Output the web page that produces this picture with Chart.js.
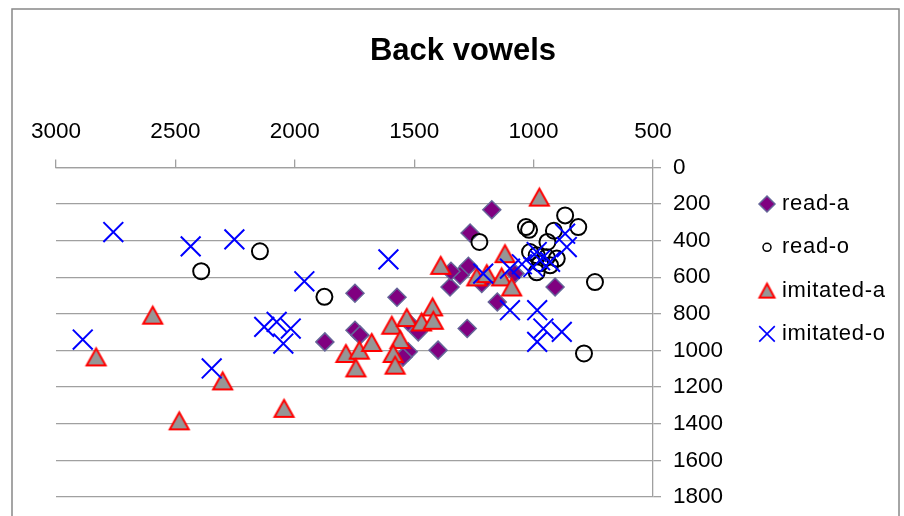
<!DOCTYPE html>
<html>
<head>
<meta charset="utf-8">
<script src="https://cdn.jsdelivr.net/npm/chart.js@4.4.1/dist/chart.umd.min.js"></script>
<style>
  html, body { margin: 0; padding: 0; background: #fff; }
  #wrap { width: 904px; height: 516px; }
</style>
</head>
<body>
<div id="wrap"><canvas id="c" width="904" height="516"></canvas></div>
<script>
// ---- Data (F2 on x, F1 on y) ----
const seriesNames = ['read-a', 'read-o', 'imitated-a', 'imitated-o'];

const readA_x = [1175, 1266, 1273, 1308, 1350, 1217, 1078, 1152, 910, 1278, 1400, 1748, 1572, 1748, 1727, 1874, 1525, 1483, 1525, 1547, 1346];
const readA_y = [231, 358, 540, 589, 653, 634, 580, 735, 653, 880, 998, 687, 709, 889, 916, 953, 844, 898, 1007, 1036, 567];

const readO_x = [2146, 2392, 1876, 1227, 1032, 1019, 868, 813, 915, 942, 1015, 987, 945, 903, 973, 931, 987, 743, 789];
const readO_y = [458, 567, 707, 407, 326, 341, 262, 326, 346, 407, 462, 480, 491, 498, 524, 535, 573, 626, 1016];

const imitA_x = [976, 2595, 2832, 2302, 2045, 2484, 1389, 1120, 1238, 1196, 1134, 1092, 1786, 1730, 1678, 1744, 1594, 1531, 1559, 1588, 1580, 1469, 1423, 1420];
const imitA_y = [162, 807, 1035, 1166, 1316, 1384, 535, 471, 598, 580, 598, 653, 1016, 998, 956, 1095, 862, 820, 940, 1016, 1080, 844, 762, 835];

const imitO_x = [2760, 2436, 2253, 1960, 2888, 2348, 2128, 2076, 2017, 2048, 1608, 1211, 1099, 987, 931, 868, 861, 973, 1099, 985, 959, 882, 985, 1049, 1001];
const imitO_y = [353, 431, 393, 622, 940, 1098, 871, 844, 880, 962, 502, 580, 553, 462, 516, 362, 435, 507, 780, 780, 880, 898, 953, 529, 544];

const xTicks = [3000, 2500, 2000, 1500, 1000, 500];
const yTicks = [0, 200, 400, 600, 800, 1000, 1200, 1400, 1600, 1800];
const titleText = 'Back vowels';

// ---- helpers ----
function pts(xs, ys) { return xs.map((x, i) => ({ x: x, y: ys[i] })); }

function makeTriangle(w, h, lw) {
  const m = 5;
  const c = document.createElement('canvas');
  c.width = Math.ceil(w + 2 * m);
  c.height = Math.ceil(h + 2 * m);
  const g = c.getContext('2d');
  const cx = c.width / 2, cy = c.height / 2;
  g.beginPath();
  g.moveTo(cx, cy - h / 2);
  g.lineTo(cx + w / 2, cy + h / 2);
  g.lineTo(cx - w / 2, cy + h / 2);
  g.closePath();
  g.fillStyle = '#969696';
  g.fill();
  g.lineWidth = lw;
  g.strokeStyle = '#ff0000';
  g.lineJoin = 'miter';
  g.stroke();
  return c;
}
const triPlot = makeTriangle(19, 17, 2);
const triLegend = makeTriangle(15, 14, 2);

const GRID = '#a0a0a0';
const FONT = 'Liberation Sans';
Chart.defaults.font.family = FONT;
Chart.defaults.color = '#000';

const datasets = [
  { label: seriesNames[0], data: pts(readA_x, readA_y), order: 4,
    pointStyle: 'rectRot', pointRadius: 9, backgroundColor: '#800080', borderColor: '#666699', borderWidth: 1.5,
    legendStyle: { pointStyle: 'rectRot', radius: 8, bg: '#800080', bc: '#666699', bw: 1.5 } },
  { label: seriesNames[1], data: pts(readO_x, readO_y), order: 3,
    pointStyle: 'circle', pointRadius: 8, backgroundColor: 'rgba(0,0,0,0)', borderColor: '#000000', borderWidth: 2,
    legendStyle: { pointStyle: 'circle', radius: 4, bg: 'rgba(0,0,0,0)', bc: '#000000', bw: 1.5 } },
  { label: seriesNames[2], data: pts(imitA_x, imitA_y), order: 2,
    pointStyle: triPlot, pointRadius: 10, backgroundColor: '#969696', borderColor: '#ff0000', borderWidth: 2,
    legendStyle: { pointStyle: triLegend, radius: 8, bg: '#969696', bc: '#ff0000', bw: 2 } },
  { label: seriesNames[3], data: pts(imitO_x, imitO_y), order: 1,
    pointStyle: 'crossRot', pointRadius: 14, backgroundColor: '#0000ff', borderColor: '#0000ff', borderWidth: 2,
    legendStyle: { pointStyle: 'crossRot', radius: 11, bg: '#0000ff', bc: '#0000ff', bw: 1.6 } }
];
datasets.forEach(d => { d.pointHoverRadius = d.pointRadius; d.showLine = false; });

const framePlugin = {
  id: 'frame',
  beforeDraw(chart) {
    const ctx = chart.ctx;
    ctx.save();
    ctx.fillStyle = '#ffffff';
    ctx.fillRect(0, 0, chart.width, chart.height);
    ctx.strokeStyle = '#888888';
    ctx.lineWidth = 1.5;
    ctx.strokeRect(12, 9, 887, 620);
    ctx.restore();
  }
};

const legendPlugin = {
  id: 'sideLegend',
  afterDraw(chart) {
    const ctx = chart.ctx;
    const x0 = 767, xt = 782, y0 = 204, dy = 43.3;
    chart.data.datasets.forEach((ds, i) => {
      const s = ds.legendStyle;
      const y = y0 + i * dy;
      ctx.save();
      ctx.fillStyle = s.bg;
      ctx.strokeStyle = s.bc;
      ctx.lineWidth = s.bw;
      Chart.helpers.drawPoint(ctx, { pointStyle: s.pointStyle, radius: s.radius, rotation: 0, borderWidth: s.bw }, x0, y);
      ctx.restore();
      ctx.save();
      ctx.fillStyle = '#000';
      ctx.font = '22px "' + FONT + '"';
      ctx.textBaseline = 'middle';
      ctx.textAlign = 'left';
      try { ctx.letterSpacing = '0.7px'; } catch (e) {}
      ctx.fillText(ds.label, xt, y);
      ctx.restore();
    });
  }
};

new Chart(document.getElementById('c'), {
  type: 'scatter',
  data: { datasets: datasets },
  plugins: [framePlugin, legendPlugin],
  options: {
    responsive: false,
    animation: false,
    devicePixelRatio: 1,
    layout: { padding: { left: 56, right: 34, top: 0, bottom: 19 } },
    plugins: {
      legend: { display: false },
      tooltip: { enabled: false },
      title: {
        display: true,
        text: titleText,
        color: '#000',
        font: { family: FONT, size: 31, weight: 'bold', lineHeight: 1.2 },
        padding: { top: 33, bottom: 0 }
      }
    },
    scales: {
      x: {
        type: 'linear',
        position: 'top',
        reverse: true,
        min: 500,
        max: 3000,
        afterBuildTicks(scale) { scale.ticks = xTicks.map(v => ({ value: v })); },
        afterFit(scale) { scale.height = 97.2; scale.paddingLeft = 0; scale.paddingRight = 0; },
        ticks: { color: '#000', font: { family: FONT, size: 22.5 }, padding: 14, maxRotation: 0, autoSkip: false,
                 callback: v => String(v) },
        grid: { drawOnChartArea: false, drawTicks: true, tickLength: 8, color: GRID, lineWidth: 1.3 },
        border: { display: true, color: GRID, width: 1.3 }
      },
      y: {
        type: 'linear',
        position: 'right',
        reverse: true,
        min: 0,
        max: 1800,
        afterBuildTicks(scale) { scale.ticks = yTicks.map(v => ({ value: v })); },
        afterFit(scale) { scale.width = 217; scale.paddingTop = 0; scale.paddingBottom = 0; },
        ticks: { color: '#000', font: { family: FONT, size: 22.5 }, padding: 12, autoSkip: false,
                 callback: v => String(v) },
        grid: { drawOnChartArea: true, drawTicks: true, tickLength: 8, color: GRID, lineWidth: 1.3 },
        border: { display: true, color: GRID, width: 1.3 }
      }
    }
  }
});
</script>
</body>
</html>
